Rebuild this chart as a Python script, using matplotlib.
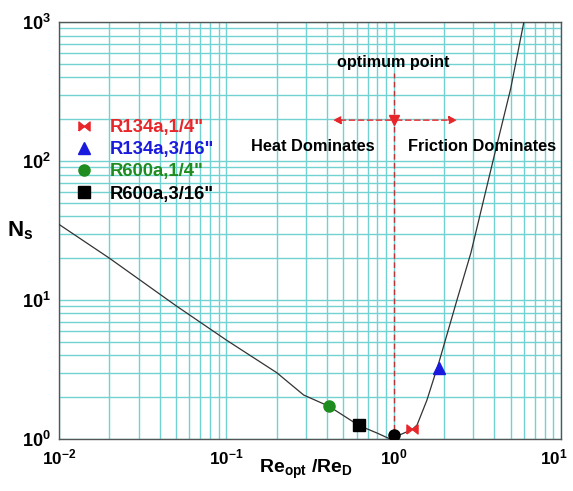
import matplotlib
matplotlib.use("Agg")
import matplotlib.pyplot as plt
from matplotlib.ticker import LogLocator, NullFormatter
from matplotlib.transforms import ScaledTranslation

plt.rcParams['font.family'] = ['Liberation Sans', 'DejaVu Sans']
plt.rcParams['mathtext.fontset'] = 'custom'
plt.rcParams['mathtext.rm'] = 'Liberation Sans'
plt.rcParams['mathtext.bf'] = 'Liberation Sans:bold'
plt.rcParams['mathtext.it'] = 'Liberation Sans:italic'
plt.rcParams['axes.unicode_minus'] = False

# curve data (Re_opt/Re_D, Ns)
curve_x = [0.01, 0.02, 0.05, 0.1, 0.2, 0.29, 0.41, 0.62, 0.8, 0.95, 1.05, 1.29, 1.38, 1.58, 1.87, 2.39, 2.9, 3.93, 5.0, 6.0]
curve_y = [35, 20, 9.1, 5.15, 3.0, 2.07, 1.72, 1.25, 1.1, 1.0, 1.05, 1.17, 1.26, 1.9, 3.6, 10, 22, 101, 330, 1000]

# data points
labels = ['R134a,1/4"', 'R134a,3/16"', 'R600a,1/4"', 'R600a,3/16"']
pts_x = [1.29, 1.87, 0.41, 0.62]
pts_y = [1.18, 3.24, 1.73, 1.26]
colors = ['#e8262a', '#1a1adf', '#1e8c1e', '#000000']
opt_x, opt_y = 1.0, 1.07

bowtie = [(-1, -0.8), (1, 0.8), (1, -0.8), (-1, 0.8), (-1, -0.8)]
markers = [bowtie, '^', 'o', 's']
sizes = [8, 8, 8, 8]

fig = plt.figure(figsize=(5.73, 4.91), dpi=100)
ax = fig.add_axes([0.103, 0.106, 0.876, 0.849])
ax.set_xscale('log')
ax.set_yscale('log')
ax.set_xlim(1e-2, 1e1)
ax.set_ylim(1e0, 1e3)

ax.xaxis.set_major_locator(LogLocator(base=10, numticks=10))
ax.yaxis.set_major_locator(LogLocator(base=10, numticks=10))
ax.xaxis.set_minor_locator(LogLocator(base=10, subs=range(2, 10), numticks=20))
ax.yaxis.set_minor_locator(LogLocator(base=10, subs=range(2, 10), numticks=20))
ax.xaxis.set_minor_formatter(NullFormatter())
ax.yaxis.set_minor_formatter(NullFormatter())
ax.grid(True, which='both', color='#72d2d2', linewidth=1.0)
ax.set_axisbelow(True)
ax.tick_params(which='both', length=0, labelsize=13, pad=6)
ax.tick_params(axis='x', labelsize=12.3)
for lab in ax.get_xticklabels() + ax.get_yticklabels():
    lab.set_fontweight('bold')
for s in ax.spines.values():
    s.set_color('#555555')
    s.set_linewidth(1.0)

ax.plot(curve_x, curve_y, color='#333333', linewidth=0.9, zorder=3)

handles = []
for x, y, c, m, lab, ms in zip(pts_x, pts_y, colors, markers, labels, sizes):
    h, = ax.plot([x], [y], linestyle='none', marker=m, color=c, markersize=ms, label=lab, zorder=5)
    handles.append(h)
ax.plot([opt_x], [opt_y], linestyle='none', marker='o', color='black', markersize=8, zorder=5)

# optimum point annotations
ax.plot([1.0, 1.0], [1.0, 430], linestyle=(0, (4, 2.5)), color='#b5373a', linewidth=1.0, zorder=4)
ax.annotate('', xy=(0.417, 197), xytext=(1.0, 197),
            arrowprops=dict(arrowstyle='-|>', linestyle=(0, (4, 2.5)), color='#e8262a', lw=1.0, mutation_scale=12))
ax.annotate('', xy=(2.49, 197), xytext=(1.0, 197),
            arrowprops=dict(arrowstyle='-|>', linestyle=(0, (4, 2.5)), color='#e8262a', lw=1.0, mutation_scale=12))
ax.plot([1.0], [197], marker='v', color='#e8262a', markersize=7, linestyle='none', zorder=6)
ax.text(1.0, 510, 'optimum point', ha='center', va='center', fontsize=11.6, fontweight='bold')
ax.text(0.33, 128, 'Heat Dominates', ha='center', va='center', fontsize=11.8, fontweight='bold')
ax.text(3.36, 127, 'Friction Dominates', ha='center', va='center', fontsize=11.8, fontweight='bold')

leg = ax.legend(handles=handles, loc='upper left', bbox_to_anchor=(0.017, 0.785), frameon=False,
                prop=dict(size=13.3, weight='bold'), handlelength=1.0, handletextpad=0.9,
                labelspacing=0.28, borderaxespad=0)
for t, c in zip(leg.get_texts(), colors):
    t.set_color(c)

ax.set_ylabel(r'$\mathbf{N_s}$', fontsize=16, rotation=0, va='center', ha='center')
ax.yaxis.set_label_coords(-0.077, 0.5)
ax.set_xlabel(r'$\mathbf{Re_{opt}}$ /$\mathbf{Re_D}$', fontsize=14, fontweight='bold', va='center')
ax.xaxis.set_label_coords(0.492, -0.074)

# nudge the rightmost x tick label so it stays inside the figure
fig.canvas.draw()
for tick in ax.xaxis.get_major_ticks():
    if abs(tick.get_loc() - 10.0) < 1e-9:
        tick.label1.set_transform(tick.label1.get_transform() + ScaledTranslation(-5 / 72, 0, fig.dpi_scale_trans))

fig.savefig('out.png', dpi=100)
